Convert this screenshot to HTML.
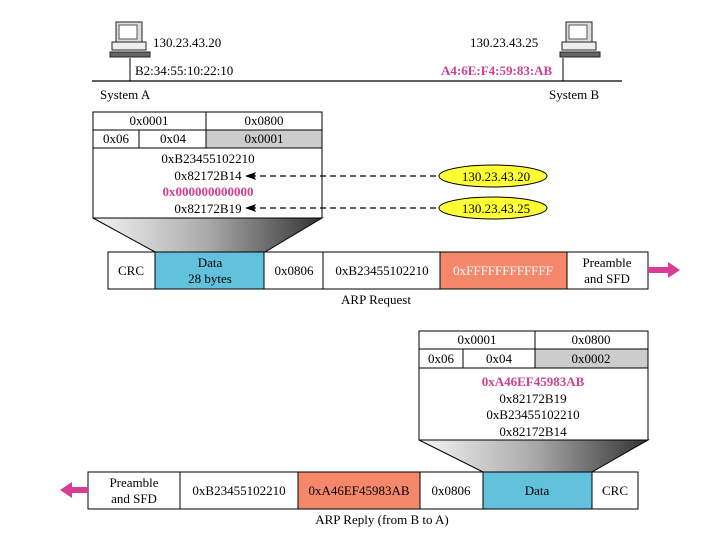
<!DOCTYPE html>
<html><head><style>
body{margin:0;background:#fff}
svg{display:block;font-family:"Liberation Serif",serif}
</style></head><body>
<svg width="720" height="540" viewBox="0 0 720 540" xmlns="http://www.w3.org/2000/svg">
<defs>
<linearGradient id="g" x1="0" x2="1" y1="0" y2="0">
<stop offset="0" stop-color="#f4f4f4"/><stop offset="0.5" stop-color="#aaa"/><stop offset="1" stop-color="#333"/>
</linearGradient>
<g id="pc">
<rect x="6" y="0" width="26" height="20" fill="#ddd" stroke="#222"/>
<rect x="9" y="3" width="18" height="14" fill="#fff" stroke="#555"/>
<rect x="2" y="20" width="34" height="8" fill="#eee" stroke="#222"/>
<rect x="0" y="30" width="40" height="5" fill="#666" stroke="#222"/>
</g>
</defs>
<!-- top network -->
<use href="#pc" x="110" y="22"/>
<use href="#pc" x="560" y="22"/>
<line x1="92" y1="81" x2="622" y2="81" stroke="#000" stroke-width="1.2"/>
<line x1="130" y1="58" x2="130" y2="81" stroke="#000"/>
<line x1="563" y1="58" x2="563" y2="81" stroke="#000"/>
<g font-size="13">
<text x="153" y="47">130.23.43.20</text>
<text x="135" y="75">B2:34:55:10:22:10</text>
<text x="100" y="99">System A</text>
<text x="470" y="47">130.23.43.25</text>
<text x="441" y="75" fill="#d04090" font-weight="bold">A4:6E:F4:59:83:AB</text>
<text x="549" y="99">System B</text>
</g>
<!-- request box -->
<g stroke="#000" fill="#fff">
<rect x="93" y="112" width="229" height="18"/>
<line x1="206" y1="112" x2="206" y2="148"/>
<rect x="93" y="130" width="229" height="18"/>
<rect x="206" y="130" width="116" height="18" fill="#ccc"/>
<line x1="139" y1="130" x2="139" y2="148"/>
<rect x="93" y="148" width="229" height="70"/>
<polygon points="93,218 322,218 265,252 155,252" fill="url(#g)"/>
</g>
<g font-size="13" text-anchor="middle">
<text x="149" y="125">0x0001</text><text x="264" y="125">0x0800</text>
<text x="116" y="143">0x06</text><text x="173" y="143">0x04</text><text x="264" y="143">0x0001</text>
<text x="208" y="163">0xB23455102210</text>
<text x="208" y="180">0x82172B14</text>
<text x="208" y="196" fill="#d04090" font-weight="bold">0x000000000000</text>
<text x="208" y="213">0x82172B19</text>
</g>
<g stroke="#000" stroke-dasharray="6,4" stroke-width="1.2">
<line x1="250" y1="176" x2="440" y2="176"/>
<line x1="250" y1="208" x2="440" y2="208"/>
</g>
<polygon points="245,176 256,172 254,176 256,180" fill="#000"/>
<polygon points="245,208 256,204 254,208 256,212" fill="#000"/>
<ellipse cx="493" cy="176" rx="54" ry="11" fill="#ffff33" stroke="#000"/>
<ellipse cx="493" cy="208" rx="54" ry="11" fill="#ffff33" stroke="#000"/>
<g font-size="13" text-anchor="middle">
<text x="496" y="181">130.23.43.20</text>
<text x="496" y="213">130.23.43.25</text>
</g>
<!-- request frame -->
<g stroke="#000">
<rect x="108" y="252" width="540" height="37" fill="#fff"/>
<rect x="155" y="252" width="109" height="37" fill="#62c2dc"/>
<line x1="323" y1="252" x2="323" y2="289"/>
<rect x="440" y="252" width="127" height="37" fill="#f5876a"/>
</g>
<polygon points="648,267 668,267 668,262 680,270 668,278 668,273 648,273" fill="#d83c94"/>
<g font-size="13" text-anchor="middle">
<text x="131" y="275">CRC</text>
<text x="210" y="267">Data</text><text x="210" y="283">28 bytes</text>
<text x="294" y="275">0x0806</text>
<text x="382" y="275">0xB23455102210</text>
<text x="503" y="275" fill="#fff">0xFFFFFFFFFFFF</text>
<text x="607" y="267">Preamble</text><text x="607" y="283">and SFD</text>
<text x="376" y="304">ARP Request</text>
</g>
<!-- reply box -->
<g stroke="#000" fill="#fff">
<rect x="419" y="331" width="229" height="18"/>
<line x1="535" y1="331" x2="535" y2="368"/>
<rect x="419" y="349" width="229" height="19"/>
<rect x="535" y="349" width="113" height="19" fill="#ccc"/>
<line x1="463" y1="349" x2="463" y2="368"/>
<rect x="419" y="368" width="229" height="72"/>
<polygon points="419,440 648,440 592,472 483,472" fill="url(#g)"/>
</g>
<g font-size="13" text-anchor="middle">
<text x="477" y="344">0x0001</text><text x="591" y="344">0x0800</text>
<text x="441" y="363">0x06</text><text x="499" y="363">0x04</text><text x="591" y="363">0x0002</text>
<text x="533" y="386" fill="#d04090" font-weight="bold">0xA46EF45983AB</text>
<text x="533" y="403">0x82172B19</text>
<text x="533" y="419">0xB23455102210</text>
<text x="533" y="436">0x82172B14</text>
</g>
<!-- reply frame -->
<g stroke="#000">
<rect x="88" y="472" width="550" height="37" fill="#fff"/>
<line x1="180" y1="472" x2="180" y2="509"/>
<rect x="298" y="472" width="122" height="37" fill="#f5876a"/>
<rect x="483" y="472" width="109" height="37" fill="#62c2dc"/>
</g>
<polygon points="88,487 72,487 72,482 60,490 72,498 72,493 88,493" fill="#d83c94"/>
<g font-size="13" text-anchor="middle">
<text x="134" y="487">Preamble</text><text x="134" y="503">and SFD</text>
<text x="239" y="495">0xB23455102210</text>
<text x="359" y="495">0xA46EF45983AB</text>
<text x="451" y="495">0x0806</text>
<text x="537" y="495">Data</text>
<text x="615" y="495">CRC</text>
<text x="382" y="524">ARP Reply  (from B to A)</text>
</g>
</svg>
</body></html>
